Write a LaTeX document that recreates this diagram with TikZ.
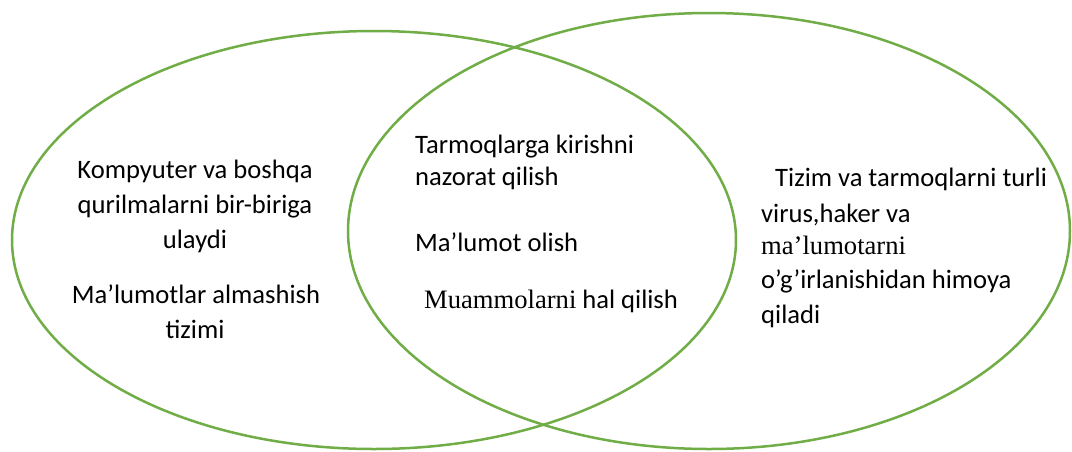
\documentclass[tikz,border=0pt]{standalone}
\usepackage{fontspec}
\setmainfont{Carlito}
\newfontfamily\tnr{Liberation Serif}
\definecolor{vgreen}{HTML}{70AD47}
\begin{document}
\begin{tikzpicture}[x=1pt,y=-1pt,
  venn/.style={draw=vgreen,line width=2.5pt},
  txt/.style={inner sep=0pt,font=\fontsize{26.6}{35}\selectfont,text=black}]
\useasboundingbox (0,0) rectangle (1072,451);
\draw[venn] (374,240) ellipse [x radius=362,y radius=209];
\draw[venn] (709,231) ellipse [x radius=361,y radius=218];
% left
\node[txt,anchor=base] (a1) at (195,178) {Kompyuter va boshqa};
\node[txt,anchor=base] (a2) at (195,213) {qurilmalarni bir-biriga};
\node[txt,anchor=base] (a3) at (195,248) {ulaydi};
\node[txt,anchor=base] (a4) at (196,303) {Ma’lumotlar almashish};
\node[txt,anchor=base] (a5) at (195,338) {tizimi};
% middle
\node[txt,anchor=base west] (b1) at (415,153) {Tarmoqlarga kirishni};
\node[txt,anchor=base west] (b2) at (415,185) {nazorat qilish};
\node[txt,anchor=base west] (b3) at (415,251) {Ma’lumot olish};
\node[txt,anchor=base west] (b4) at (424,308) {{\tnr Muammolarni} hal qilish};
% right
\node[txt,anchor=base west] (c1) at (775,186) {Tizim va tarmoqlarni turli};
\node[txt,anchor=base west] (c2) at (761,222) {virus,haker va};
\node[txt,anchor=base west] (c3) at (761,254) {\tnr ma’lumotarni};
\node[txt,anchor=base west] (c4) at (761,288) {o’g’irlanishidan himoya};
\node[txt,anchor=base west] (c5) at (761,323) {qiladi};
\end{tikzpicture}
\end{document}
